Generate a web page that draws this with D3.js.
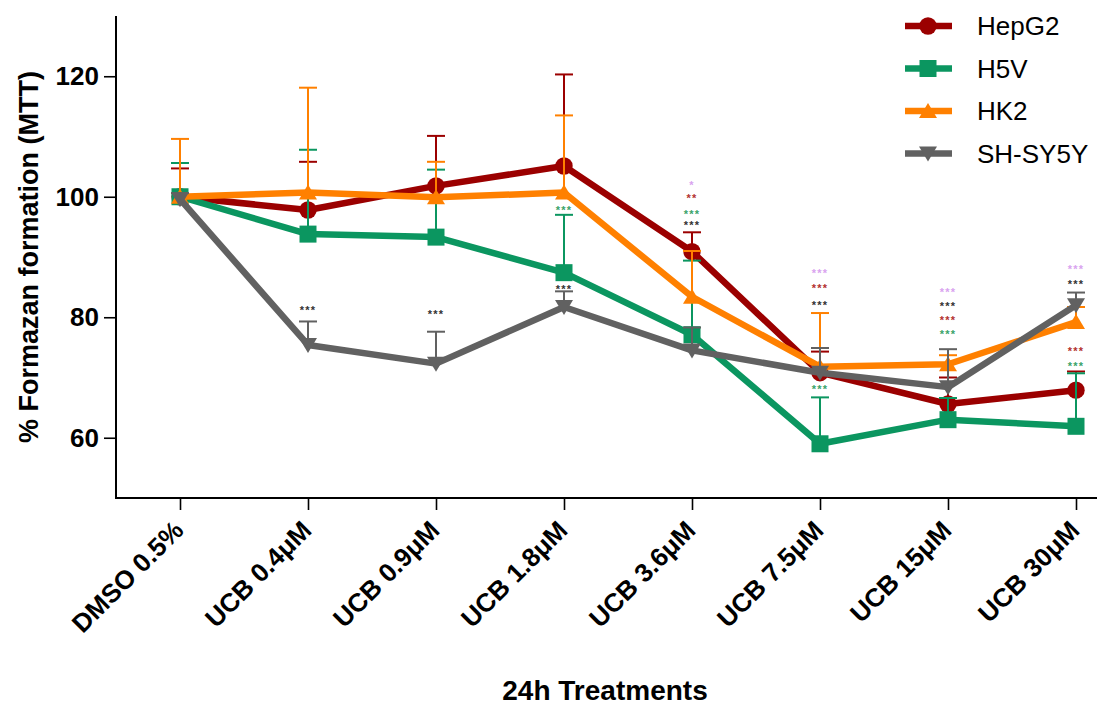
<!DOCTYPE html>
<html>
<head>
<meta charset="utf-8">
<script src="https://cdn.jsdelivr.net/npm/d3@7/dist/d3.min.js"></script>
<style>
  html, body { margin: 0; padding: 0; background: #ffffff; }
  svg { display: block; }
  text { font-family: "Liberation Sans", Arial, sans-serif; }
</style>
</head>
<body>
<svg id="chart" width="1097" height="707"></svg>
<script>
// Treatment groups along the x axis
const categories = ["DMSO 0.5%", "UCB 0.4μM", "UCB 0.9μM", "UCB 1.8μM", "UCB 3.6μM", "UCB 7.5μM", "UCB 15μM", "UCB 30μM"];

// Mean % formazan formation and SEM for each cell line
const hepg2Mean   = [100, 97.8, 101.8, 105.1, 90.9, 70.8, 65.6, 67.9];
const hepg2Sem    = [4.7, 8.0, 8.3, 15.2, 3.2, 3.5, 4.4, 3.1];
const h5vMean     = [100, 93.8, 93.3, 87.4, 77.1, 59.0, 63.0, 61.9];
const h5vSem      = [5.6, 14.0, 11.2, 9.6, 12.3, 7.7, 3.6, 8.8];
const hk2Mean     = [100, 100.7, 99.9, 100.7, 83.4, 71.8, 72.2, 79.2];
const hk2Sem      = [9.6, 17.4, 5.9, 12.8, 7.6, 8.9, 1.5, 2.5];
const shsy5yMean  = [99.6, 75.4, 72.3, 81.7, 74.5, 70.8, 68.4, 82.0];
const shsy5ySem   = [1.0, 3.9, 5.3, 2.6, 3.8, 4.1, 6.3, 2.1];

const seriesNames = ["HepG2", "H5V", "HK2", "SH-SY5Y"];
const yTicks = [60, 80, 100, 120];

// Significance marks: [treatment, level on the y scale, marks, colour group]
const sigMarks = [
  ["UCB 0.4μM", 81.7, "***", "grey"],
  ["UCB 0.9μM", 80.9, "***", "grey"],
  ["UCB 1.8μM", 98.2, "***", "green"],
  ["UCB 1.8μM", 85.1, "***", "grey"],
  ["UCB 3.6μM", 102.4, "*", "violet"],
  ["UCB 3.6μM", 100.2, "**", "red"],
  ["UCB 3.6μM", 97.6, "***", "green"],
  ["UCB 3.6μM", 95.7, "***", "grey"],
  ["UCB 7.5μM", 87.8, "***", "violet"],
  ["UCB 7.5μM", 85.2, "***", "red"],
  ["UCB 7.5μM", 82.4, "***", "grey"],
  ["UCB 7.5μM", 68.5, "***", "green"],
  ["UCB 15μM", 84.6, "***", "violet"],
  ["UCB 15μM", 82.3, "***", "grey"],
  ["UCB 15μM", 80.0, "***", "red"],
  ["UCB 15μM", 77.6, "***", "green"],
  ["UCB 30μM", 88.4, "***", "violet"],
  ["UCB 30μM", 85.9, "***", "grey"],
  ["UCB 30μM", 74.8, "***", "red"],
  ["UCB 30μM", 72.4, "***", "green"]
];

const seriesColor = { "HepG2": "#9b0000", "H5V": "#0b9660", "HK2": "#ff8000", "SH-SY5Y": "#616161" };
const markColor = { grey: "#333333", green: "#3aa36a", red: "#b3322f", violet: "#d9a3ef" };

const series = [
  { name: "HepG2", mean: hepg2Mean, sem: hepg2Sem, shape: "circle" },
  { name: "H5V", mean: h5vMean, sem: h5vSem, shape: "square" },
  { name: "HK2", mean: hk2Mean, sem: hk2Sem, shape: "up" },
  { name: "SH-SY5Y", mean: shsy5yMean, sem: shsy5ySem, shape: "down" }
];

const svg = d3.select("#chart");
svg.append("rect").attr("width", 1097).attr("height", 707).attr("fill", "#ffffff");

const axisX = 116, axisBottom = 498, axisTop = 16, axisRight = 1097;

const x = d3.scalePoint().domain(categories).range([180, 1076]);
const y = d3.scaleLinear().domain([50, 130]).range([axisBottom, axisTop]);

// Axes
const yAxis = d3.axisLeft(y).tickValues(yTicks).tickSize(12).tickPadding(5).tickSizeOuter(0);
const gy = svg.append("g").attr("transform", `translate(${axisX},0)`).call(yAxis);
gy.select(".domain").remove();
gy.selectAll(".tick line").attr("stroke", "#000").attr("stroke-width", 1.6);
gy.selectAll(".tick text")
  .attr("font-family", "'Liberation Sans', Arial, sans-serif")
  .attr("font-size", 26).attr("font-weight", "bold").attr("fill", "#000");
svg.append("line").attr("x1", axisX).attr("x2", axisX).attr("y1", axisTop).attr("y2", axisBottom)
  .attr("stroke", "#000").attr("stroke-width", 2);

const xAxis = d3.axisBottom(x).tickSize(12).tickSizeOuter(0).tickFormat("");
const gx = svg.append("g").attr("transform", `translate(0,${axisBottom})`).call(xAxis);
gx.select(".domain").remove();
gx.selectAll(".tick line").attr("stroke", "#000").attr("stroke-width", 1.6);
svg.append("line").attr("x1", axisX - 1).attr("x2", axisRight).attr("y1", axisBottom).attr("y2", axisBottom)
  .attr("stroke", "#000").attr("stroke-width", 2);

// Rotated treatment labels
svg.append("g").selectAll("text").data(categories).join("text")
  .attr("transform", d => `translate(${x(d) + 5},${axisBottom + 34}) rotate(-45)`)
  .attr("text-anchor", "end")
  .attr("font-size", 26).attr("font-weight", "bold").attr("fill", "#000")
  .text(d => d);

// Axis titles
svg.append("text")
  .attr("transform", `translate(38,257) rotate(-90)`)
  .attr("text-anchor", "middle")
  .attr("font-size", 27).attr("font-weight", "bold").attr("fill", "#000")
  .text("% Formazan formation (MTT)");

svg.append("text")
  .attr("x", 605).attr("y", 700)
  .attr("text-anchor", "middle")
  .attr("font-size", 28).attr("font-weight", "bold").attr("fill", "#000")
  .text("24h Treatments");

// Marker shapes
function markerPath(shape) {
  if (shape === "up") return "M0,-8 L9,7 L-9,7 Z";
  if (shape === "down") return "M0,8 L9,-7 L-9,-7 Z";
  return null;
}
function drawMarker(g, shape, color, cx, cy) {
  if (shape === "circle") {
    g.append("circle").attr("cx", cx).attr("cy", cy).attr("r", 8.7).attr("fill", color);
  } else if (shape === "square") {
    g.append("rect").attr("x", cx - 8.5).attr("y", cy - 8.5).attr("width", 17).attr("height", 17).attr("fill", color);
  } else {
    g.append("path").attr("transform", `translate(${cx},${cy})`).attr("d", markerPath(shape)).attr("fill", color);
  }
}

const line = d3.line().x(d => x(d.cat)).y(d => y(d.v));

series.forEach(s => {
  const color = seriesColor[s.name];
  const pts = categories.map((c, i) => ({ cat: c, v: s.mean[i], e: s.sem[i] }));
  const g = svg.append("g");
  g.append("path").datum(pts).attr("d", line)
    .attr("fill", "none").attr("stroke", color).attr("stroke-width", 6.5)
    .attr("stroke-linejoin", "round");
  pts.forEach(p => drawMarker(g, s.shape, color, x(p.cat), y(p.v)));
  // Upper SEM bars
  const eb = g.append("g").attr("stroke", color).attr("stroke-width", 2);
  pts.forEach(p => {
    const cx = x(p.cat), top = y(p.v + p.e);
    eb.append("line").attr("x1", cx).attr("x2", cx).attr("y1", y(p.v)).attr("y2", top);
    eb.append("line").attr("x1", cx - 9).attr("x2", cx + 9).attr("y1", top).attr("y2", top);
  });
});

// Significance marks
svg.append("g").selectAll("text").data(sigMarks).join("text")
  .attr("x", d => x(d[0]))
  .attr("y", d => y(d[1]) + 6.5)
  .attr("text-anchor", "middle")
  .attr("font-size", 11).attr("font-weight", "bold")
  .attr("letter-spacing", 1.3)
  .attr("fill", d => markColor[d[3]])
  .text(d => d[2]);

// Legend
const legend = svg.append("g");
seriesNames.forEach((name, i) => {
  const s = series.find(t => t.name === name);
  const ly = 26 + i * 42.5;
  const color = seriesColor[name];
  legend.append("line").attr("x1", 905).attr("x2", 952).attr("y1", ly).attr("y2", ly)
    .attr("stroke", color).attr("stroke-width", 6.5);
  drawMarker(legend, s.shape, color, 928, ly);
  legend.append("text").attr("x", 977).attr("y", ly + 9)
    .attr("font-size", 26).attr("fill", "#000").text(name);
});
</script>
</body>
</html>
